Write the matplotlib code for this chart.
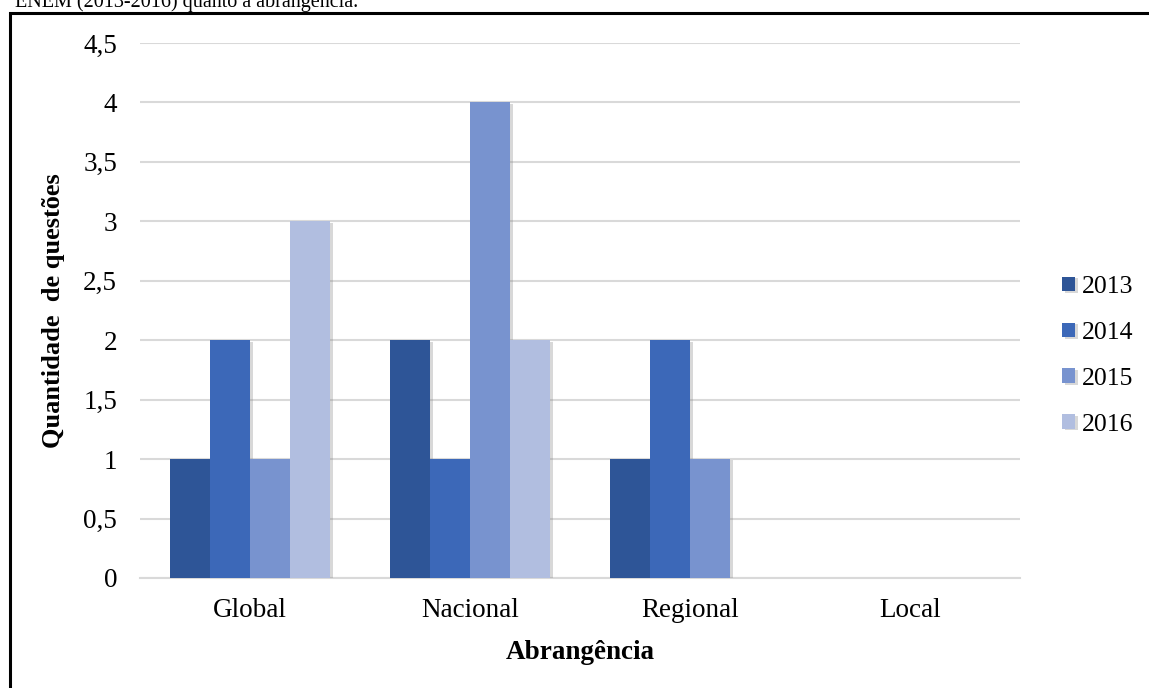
import numpy as np
import matplotlib.pyplot as plt
import matplotlib.patheffects as pe
from matplotlib.patches import Rectangle

# Dados: quantidade de questões por abrangência e ano
categorias = ['Global', 'Nacional', 'Regional', 'Local']
anos = ['2013', '2014', '2015', '2016']
q_2013 = [1, 2, 1, 0]
q_2014 = [2, 1, 2, 0]
q_2015 = [1, 4, 1, 0]
q_2016 = [3, 2, 0, 0]
cores = ['#2E5597', '#3C68B8', '#7893CF', '#B1BEE0']

y_ticks = [0, 0.5, 1, 1.5, 2, 2.5, 3, 3.5, 4, 4.5]
y_rotulos = ['0', '0,5', '1', '1,5', '2', '2,5', '3', '3,5', '4', '4,5']

plt.rcParams['font.family'] = 'Liberation Serif'

fig = plt.figure(figsize=(11.49, 6.88), dpi=100)
ax = fig.add_axes([0.1218, 0.1599, 0.7659, 0.7776])

x = np.arange(len(categorias))
largura = 0.182
series = [q_2013, q_2014, q_2015, q_2016]
sombra = [pe.SimplePatchShadow(offset=(2, -1), shadow_rgbFace='#808080', alpha=0.3), pe.Normal()]
for i, (valores, ano, cor) in enumerate(zip(series, anos, cores)):
    barras = ax.bar(x + (i - 1.5) * largura, valores, largura, color=cor, label=ano, zorder=3)
    for b in barras:
        b.set_path_effects(sombra)

ax.set_xlim(-0.5, 3.5)
ax.set_ylim(0, 4.5)
ax.set_yticks(y_ticks)
ax.set_yticklabels(y_rotulos)
ax.set_xticks(x)
ax.set_xticklabels(categorias)
ax.tick_params(axis='both', length=0, labelsize=19.5)
ax.tick_params(axis='y', pad=16.5)
ax.tick_params(axis='x', pad=14.5)
ax.grid(axis='y', color='#D9D9D9', linewidth=1.5, zorder=0)
ax.set_axisbelow(True)
for lado in ['top', 'right', 'left']:
    ax.spines[lado].set_visible(False)
ax.spines['bottom'].set_color('#D9D9D9')
ax.spines['bottom'].set_linewidth(1.5)

ax.set_ylabel('Quantidade  de questões', fontsize=19, fontweight='bold', labelpad=13)
ax.set_xlabel('Abrangência', fontsize=19.5, fontweight='bold', labelpad=12.5)

ax.legend(loc='center left', bbox_to_anchor=(1.022, 0.415), frameon=False, fontsize=18.5,
          handlelength=0.5, handleheight=0.5, handletextpad=0.25, labelspacing=0.93)

# Moldura da figura e legenda (cortada) acima
fig.patches.append(Rectangle((10 / 1149, -0.1), 1.2, 1 - 13 / 688 + 0.1, transform=fig.transFigure,
                             fill=False, edgecolor='black', linewidth=2.2))
fig.text(15 / 1149, 1 - 7 / 688, 'ENEM (2013-2016) quanto à abrangência.', fontsize=14.5,
         va='baseline', ha='left')

plt.savefig('out.png', dpi=100)
